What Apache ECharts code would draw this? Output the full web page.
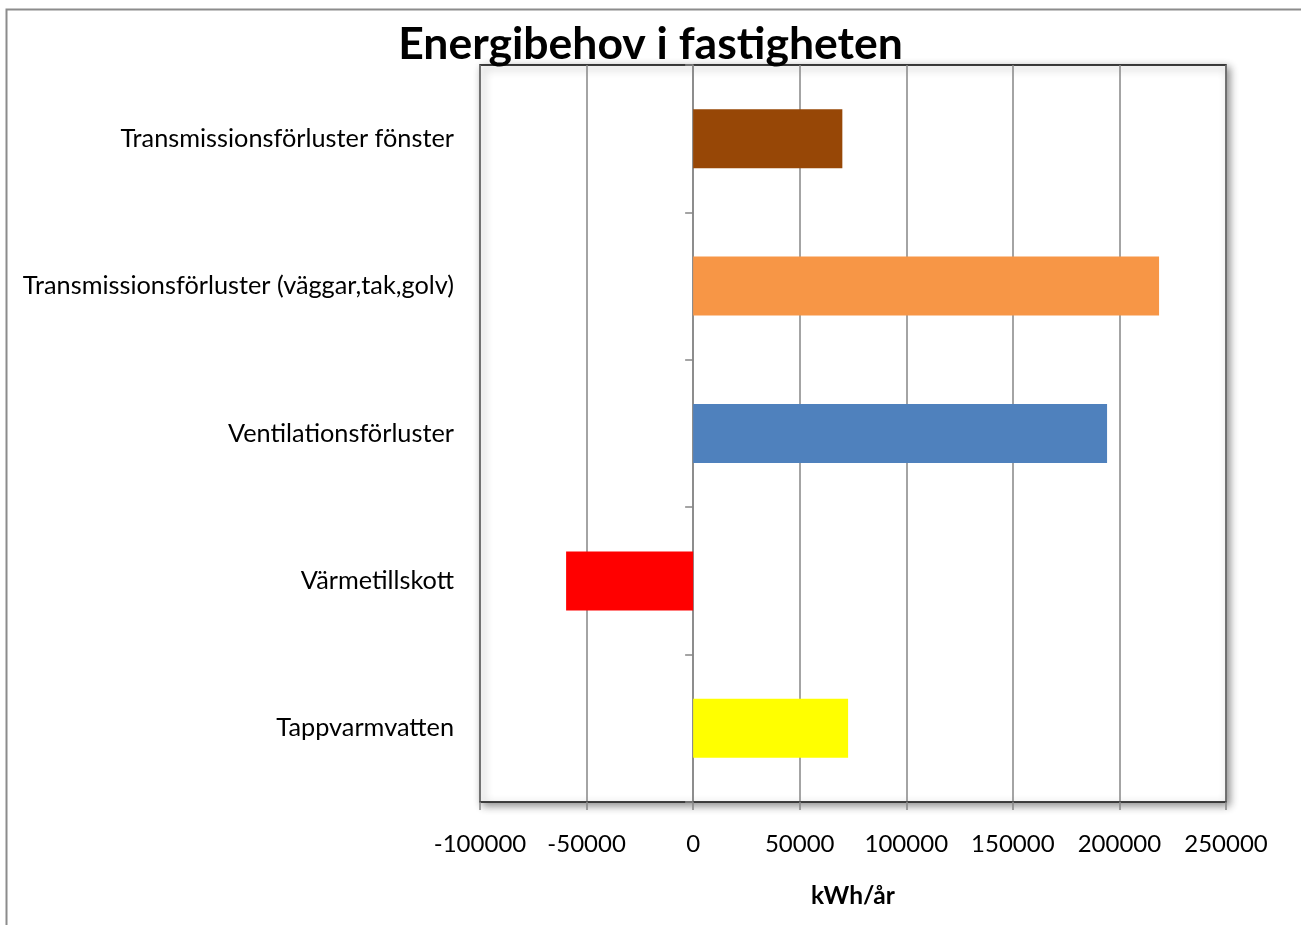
<!DOCTYPE html>
<html>
<head>
<meta charset="utf-8">
<script src="https://cdn.jsdelivr.net/npm/echarts@6/dist/echarts.min.js"></script>
<style>
html,body{margin:0;padding:0;background:#fff;}
#chart{width:1301px;height:925px;}
</style>
</head>
<body>
<div id="chart"></div>
<script>
const titleText = 'Energibehov i fastigheten';
const categories = [
  'Transmissionsförluster fönster',
  'Transmissionsförluster (väggar,tak,golv)',
  'Ventilationsförluster',
  'Värmetillskott',
  'Tappvarmvatten'
];
const values = [70000, 218600, 194200, -59600, 72700];
const barColors = ['#974706', '#F79646', '#4F81BD', '#FF0000', '#FFFF00'];
const axisName = 'kWh/år';
const xMin = -100000, xMax = 250000, xStep = 50000;

const FONT = 'Lato, "Open Sans", sans-serif';
const chart = echarts.init(document.getElementById('chart'));
chart.setOption({
  backgroundColor: '#fff',
  animation: false,
  title: {
    text: titleText,
    left: 'center',
    top: 17,
    textStyle: {fontFamily: FONT, fontWeight: 'bold', fontSize: 44.5, color: '#000'}
  },
  graphic: [{
    type: 'rect', z: -1,
    shape: {x: 6.5, y: 9.5, width: 1320, height: 940},
    style: {fill: 'none', stroke: '#8c8c8c', lineWidth: 2}
  }],
  grid: {
    left: 480, right: 75, top: 65, bottom: 123,
    show: true, backgroundColor: '#fff',
    borderColor: '#000', borderWidth: 1.5,
    shadowColor: 'rgba(0,0,0,0.45)', shadowBlur: 8, shadowOffsetX: 3, shadowOffsetY: 3
  },
  xAxis: {
    type: 'value', min: xMin, max: xMax, interval: xStep,
    name: axisName, nameLocation: 'middle', nameGap: 82,
    nameTextStyle: {fontFamily: FONT, fontWeight: 'bold', fontSize: 24.5, color: '#000'},
    axisLine: {show: true, lineStyle: {color: '#404040', width: 1.5}},
    axisTick: {show: true, length: 8, lineStyle: {color: '#868686', width: 1.5}},
    axisLabel: {margin: 30, fontFamily: FONT, fontSize: 24, color: '#000',
      formatter: v => String(v)},
    splitLine: {show: true, lineStyle: {color: '#868686', width: 1.5}}
  },
  yAxis: [{
    type: 'category', data: categories, inverse: true,
    axisLine: {show: false, onZero: false},
    axisTick: {show: false},
    axisLabel: {margin: 26, fontFamily: FONT, fontSize: 25.3, color: '#000'},
    splitLine: {show: false}
  }, {
    type: 'category', data: categories, inverse: true, position: 'left',
    axisLine: {show: true, onZero: true, lineStyle: {color: '#868686', width: 1.5}},
    axisTick: {show: true, length: 8, lineStyle: {color: '#868686', width: 1.5}},
    axisLabel: {show: false},
    splitLine: {show: false}
  }],
  series: [{
    type: 'bar',
    yAxisIndex: 0,
    barWidth: '40%',
    z: 3,
    data: values.map((v, i) => ({value: v, itemStyle: {color: barColors[i]}}))
  }]
});
</script>
</body>
</html>
